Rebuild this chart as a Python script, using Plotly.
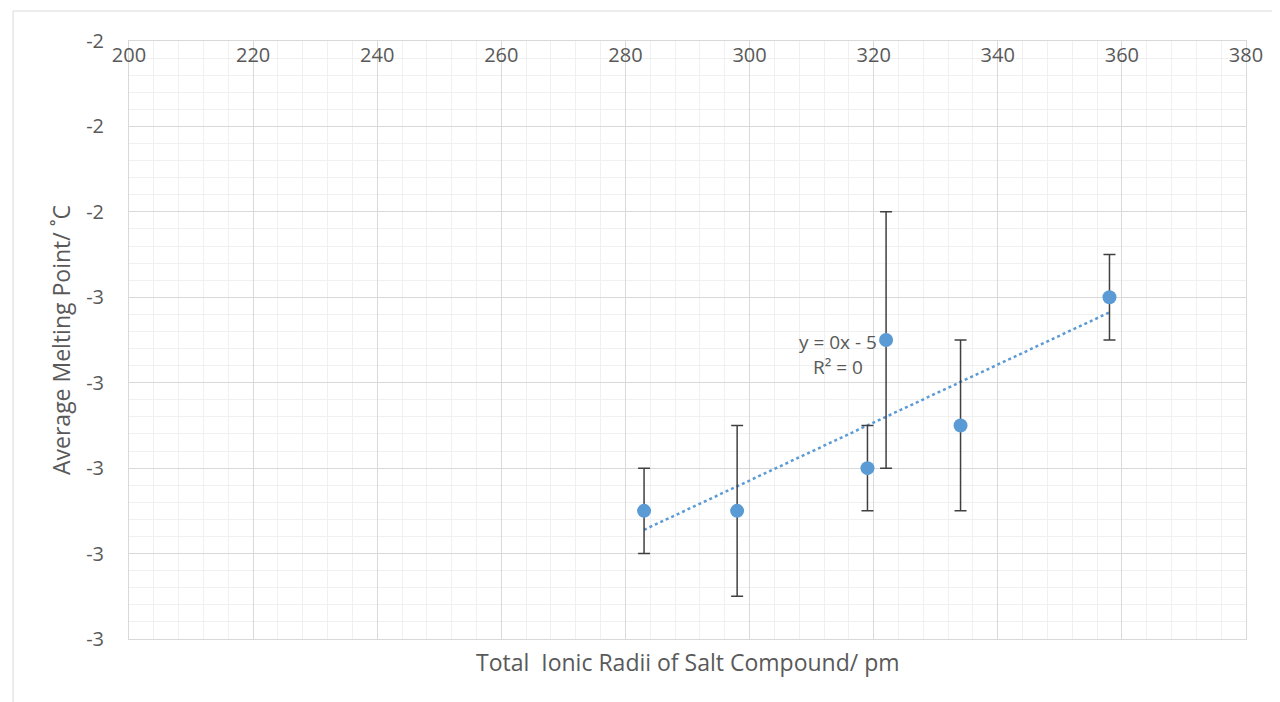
import numpy as np
import plotly.graph_objects as go

# Data
radii_pm = [283, 298, 319, 322, 334, 358]
melting_c = [-2.75, -2.75, -2.70, -2.55, -2.65, -2.50]
error_c = [0.05, 0.10, 0.05, 0.15, 0.10, 0.05]

y_tickvals = [-2.2, -2.3, -2.4, -2.5, -2.6, -2.7, -2.8, -2.9]
y_ticktext = ["-2", "-2", "-2", "-3", "-3", "-3", "-3", "-3"]
x_tickvals = [200, 220, 240, 260, 280, 300, 320, 340, 360, 380]

# Linear trendline (least squares)
slope, intercept = np.polyfit(radii_pm, melting_c, 1)
trend_x = [min(radii_pm), max(radii_pm)]
trend_y = [slope * v + intercept for v in trend_x]

blue = "#5B9BD5"
txt = "#595959"
font = "Open Sans"

fig = go.Figure()
fig.add_trace(go.Scatter(
    x=trend_x, y=trend_y, mode="lines",
    line=dict(color=blue, width=2.5, dash="dot"),
    hoverinfo="skip", showlegend=False,
))
fig.add_trace(go.Scatter(
    x=radii_pm, y=melting_c, mode="markers",
    marker=dict(color=blue, size=14),
    error_y=dict(type="data", array=error_c, visible=True,
                 color="#404040", thickness=1.5, width=6),
    showlegend=False,
))

fig.add_annotation(
    x=314.3, y=-2.5665, xref="x", yref="y",
    text="y = 0x - 5<br>R² = 0", showarrow=False, align="center",
    font=dict(family=font, size=19, color=txt),
)

# chart area border
fig.add_shape(type="rect", xref="paper", yref="paper",
              x0=-0.1038, x1=1.2, y0=-0.3, y1=1.0502,
              line=dict(color="#D9D9D9", width=1), layer="below")

fig.update_layout(
    width=1272, height=694,
    margin=dict(l=121, r=34, t=33, b=63),
    paper_bgcolor="white", plot_bgcolor="white",
    font=dict(family=font, color=txt, size=19),
    xaxis=dict(
        range=[199.9999, 380.0001], side="top", tickvals=x_tickvals,
        ticklabelposition="outside", ticks="", ticklabelstandoff=-30,
        showgrid=True, gridcolor="#D9D9D9", gridwidth=1,
        minor=dict(dtick=4, showgrid=True, gridcolor="#F0F0F0", gridwidth=1),
        showline=True, linecolor="#D9D9D9", mirror=True, zeroline=False,
        tickfont=dict(family=font, size=20, color=txt),
    ),
    yaxis=dict(
        range=[-2.9000001, -2.1999999], tickvals=y_tickvals, ticktext=y_ticktext,
        ticks="", ticklabelstandoff=20,
        showgrid=True, gridcolor="#D9D9D9", gridwidth=1,
        minor=dict(dtick=0.02, tick0=-2.9, showgrid=True, gridcolor="#F0F0F0", gridwidth=1),
        showline=True, linecolor="#D9D9D9", mirror=True, zeroline=False,
        tickfont=dict(family=font, size=20, color=txt),
        title=dict(text="Average Melting Point/ ˚C", standoff=9,
                   font=dict(family=font, size=23, color=txt)),
    ),
)

# x axis title at the bottom (axis is on top)
fig.add_annotation(
    x=0.5, y=-0.009, xref="paper", yref="paper", yanchor="top",
    text="Total  Ionic Radii of Salt Compound/ pm", showarrow=False,
    font=dict(family=font, size=23, color=txt),
)

fig.write_html("out.html")
